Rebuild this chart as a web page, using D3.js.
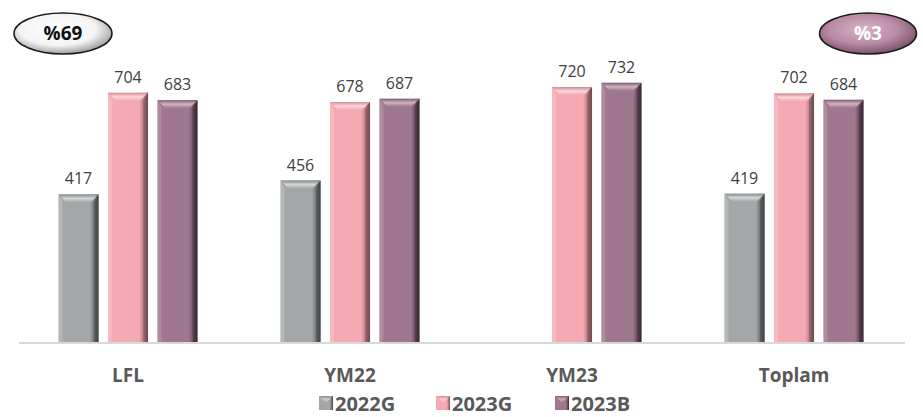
<!DOCTYPE html>
<html>
<head>
<meta charset="utf-8">
<script src="https://cdn.jsdelivr.net/npm/d3@7"></script>
<style>
  body { margin: 0; background: #fff; }
  svg { display: block; font-family: "Open Sans", sans-serif; }
</style>
</head>
<body>
<div id="chart"></div>
<script>
// chart data
var categories = ["LFL", "YM22", "YM23", "Toplam"];
var seriesNames = ["2022G", "2023G", "2023B"];
var s2022G = [417, 456, null, 419];
var s2023G = [704, 678, 720, 702];
var s2023B = [683, 687, 732, 684];
var badgeLeft = "%69";
var badgeRight = "%3";

var W = 923, H = 417;
var colors = {
  "2022G": {base: "#a3a7a8", light: "#d4d7d8", dark: "#3f4344"},
  "2023G": {base: "#f5a9b2", light: "#fcd6da", dark: "#6e4a4f"},
  "2023B": {base: "#9f778e", light: "#d2b3c5", dark: "#3a2833"}
};

var svg = d3.select("#chart").append("svg")
  .attr("width", W)
  .attr("height", H);

var defs = svg.append("defs");

// gradients for bar bodies and bevels
seriesNames.forEach(function(name, i) {
  var c = colors[name];
  var g = defs.append("linearGradient").attr("id", "body" + i)
    .attr("x1", "0").attr("x2", "1").attr("y1", "0").attr("y2", "0");
  g.append("stop").attr("offset", "0").attr("stop-color", c.base);
  g.append("stop").attr("offset", "0.08").attr("stop-color", c.base);
  g.append("stop").attr("offset", "0.78").attr("stop-color", c.base);
  g.append("stop").attr("offset", "0.9").attr("stop-color", d3.interpolateRgb(c.base, c.dark)(0.5));
  g.append("stop").attr("offset", "1").attr("stop-color", c.dark);

  var t = defs.append("linearGradient").attr("id", "top" + i)
    .attr("x1", "0").attr("x2", "0").attr("y1", "0").attr("y2", "1");
  t.append("stop").attr("offset", "0").attr("stop-color", d3.interpolateRgb(c.base, c.dark)(0.3));
  t.append("stop").attr("offset", "0.5").attr("stop-color", c.light);
  t.append("stop").attr("offset", "1").attr("stop-color", c.base);
});

var ellW = defs.append("radialGradient").attr("id", "ellWhite")
  .attr("cx", "0.45").attr("cy", "0.4").attr("r", "0.65");
ellW.append("stop").attr("offset", "0").attr("stop-color", "#ffffff");
ellW.append("stop").attr("offset", "0.6").attr("stop-color", "#f4f4f4");
ellW.append("stop").attr("offset", "1").attr("stop-color", "#8a8a8a");

var ellP = defs.append("radialGradient").attr("id", "ellPurple")
  .attr("cx", "0.45").attr("cy", "0.4").attr("r", "0.65");
ellP.append("stop").attr("offset", "0").attr("stop-color", "#d6b4c8");
ellP.append("stop").attr("offset", "0.55").attr("stop-color", "#b98aa5");
ellP.append("stop").attr("offset", "1").attr("stop-color", "#6d4a5e");

// scales
var x0 = d3.scaleBand().domain(categories).range([17, 905]);
var x1 = d3.scaleBand().domain(seriesNames).range([41.5, 180.5]).paddingInner(0.19);
var y = d3.scaleLinear().domain([0, 1000]).range([342, -12]);

var rows = categories.map(function(cat, i) {
  return {cat: cat, values: [s2022G[i], s2023G[i], s2023B[i]]};
});

// axis line
svg.append("line")
  .attr("x1", 19).attr("x2", 905)
  .attr("y1", y(0) + 1).attr("y2", y(0) + 1)
  .attr("stroke", "#d9d9d9")
  .attr("stroke-width", 2);

var groups = svg.selectAll(".grp")
  .data(rows)
  .enter().append("g")
  .attr("class", "grp")
  .attr("transform", function(d) { return "translate(" + x0(d.cat) + ",0)"; });

var bw = x1.bandwidth();
var bev = 8;

groups.each(function(d) {
  var g = d3.select(this);
  d.values.forEach(function(v, i) {
    if (v == null) return;
    var name = seriesNames[i];
    var c = colors[name];
    var bx = x1(name), by = y(v), bh = y(0) - y(v);
    g.append("rect")
      .attr("x", bx).attr("y", by)
      .attr("width", bw).attr("height", bh)
      .attr("fill", "url(#body" + i + ")");
    // top bevel
    g.append("polygon")
      .attr("points", [[bx, by], [bx + bw, by], [bx + bw - bev, by + bev], [bx + bev, by + bev]].join(" "))
      .attr("fill", "url(#top" + i + ")");
    // left bevel
    g.append("polygon")
      .attr("points", [[bx, by], [bx + bev * 0.5, by + bev], [bx + bev * 0.5, by + bh], [bx, by + bh]].join(" "))
      .attr("fill", c.light).attr("opacity", 0.35);
    // right bevel
    g.append("polygon")
      .attr("points", [[bx + bw, by], [bx + bw - bev * 0.6, by + bev], [bx + bw - bev * 0.6, by + bh], [bx + bw, by + bh]].join(" "))
      .attr("fill", c.dark).attr("opacity", 0.45);
    // value label
    g.append("text")
      .attr("x", bx + bw / 2)
      .attr("y", by - 10)
      .attr("text-anchor", "middle")
      .attr("font-size", 16)
      .attr("fill", "#404040")
      .text(v);
  });
  g.append("text")
    .attr("x", x0.bandwidth() / 2)
    .attr("y", 382)
    .attr("text-anchor", "middle")
    .attr("font-size", 19)
    .attr("font-weight", "bold")
    .attr("fill", "#595959")
    .text(d.cat);
});

// legend
var legendX = [319, 436, 555];
var leg = svg.selectAll(".leg")
  .data(seriesNames)
  .enter().append("g")
  .attr("class", "leg")
  .attr("transform", function(d, i) { return "translate(" + legendX[i] + ",396)"; });

leg.append("rect")
  .attr("width", 14).attr("height", 14)
  .attr("fill", function(d, i) { return "url(#body" + i + ")"; });
leg.append("polygon")
  .attr("points", "0,0 14,0 7,7")
  .attr("fill", function(d, i) { return "url(#top" + i + ")"; })
  .attr("opacity", 0.8);
leg.append("text")
  .attr("x", 16)
  .attr("y", 15)
  .attr("font-size", 20)
  .attr("font-weight", "bold")
  .attr("fill", "#595959")
  .text(function(d) { return d; });

// badges
svg.append("ellipse")
  .attr("cx", 63).attr("cy", 33.5).attr("rx", 49).attr("ry", 20.5)
  .attr("fill", "url(#ellWhite)")
  .attr("stroke", "#1a1a1a").attr("stroke-width", 1.5);
svg.append("text")
  .attr("x", 63).attr("y", 40)
  .attr("text-anchor", "middle")
  .attr("font-size", 19).attr("font-weight", "bold")
  .attr("fill", "#111")
  .text(badgeLeft);

svg.append("ellipse")
  .attr("cx", 868).attr("cy", 33.5).attr("rx", 48.5).attr("ry", 20.5)
  .attr("fill", "url(#ellPurple)")
  .attr("stroke", "#1a1a1a").attr("stroke-width", 1.5);
svg.append("text")
  .attr("x", 868).attr("y", 40)
  .attr("text-anchor", "middle")
  .attr("font-size", 19).attr("font-weight", "bold")
  .attr("fill", "#fff")
  .text(badgeRight);
</script>
</body>
</html>
